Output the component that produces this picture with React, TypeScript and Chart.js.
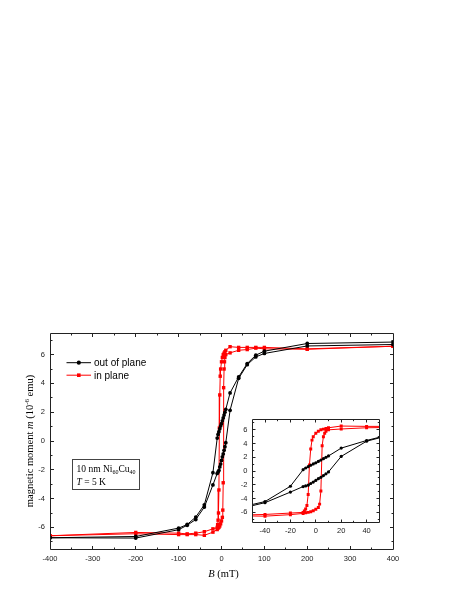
import React, { useEffect, useRef } from "react";
import { Chart, registerables } from "chart.js";

Chart.register(...registerables);

// ---- data: out of plane (black) ----
const outOfPlaneFieldDown = [400, 200, 100, 80, 60, 40, 20, 10, 8, 6, 4, 2, 0, -2, -4, -6, -8, -10, -20, -40, -60, -80, -100, -200, -400];
const outOfPlaneMomentDown = [6.87, 6.77, 6.24, 5.96, 5.38, 4.45, 3.34, 2.2, 2.0, 1.8, 1.6, 1.4, 1.2, 1.05, 0.85, 0.65, 0.45, 0.2, -2.2, -4.43, -5.28, -5.8, -6.05, -6.63, -6.72];
const outOfPlaneFieldUp = [-400, -200, -100, -80, -60, -40, -20, -10, -8, -6, -4, -2, 0, 2, 4, 6, 8, 10, 20, 40, 60, 80, 100, 200, 400];
const outOfPlaneMomentUp = [-6.72, -6.74, -6.16, -5.85, -5.45, -4.59, -3.05, -2.25, -2.15, -2.05, -1.8, -1.6, -1.35, -1.1, -0.9, -0.65, -0.4, -0.12, 2.13, 4.35, 5.3, 5.84, 6.08, 6.6, 6.7];

// ---- data: in plane (red) ----
const inPlaneFieldDown = [400, 200, 100, 80, 60, 40, 20, 10, 8, 6, 4, 2, 0, -2, -3, -4, -5, -6, -7, -8, -9, -10, -20, -40, -60, -80, -100, -200, -400];
const inPlaneMomentDown = [6.58, 6.4, 6.5, 6.5, 6.5, 6.5, 6.55, 6.3, 6.2, 6.1, 6.0, 5.8, 5.5, 5.0, 4.5, 3.2, 0.9, -3.4, -5.0, -5.5, -5.8, -6.0, -6.1, -6.3, -6.4, -6.45, -6.4, -6.35, -6.58];
const inPlaneFieldUp = [-400, -200, -100, -80, -60, -40, -20, -10, -8, -6, -4, -2, 0, 2, 3, 4, 5, 6, 7, 8, 10, 20, 40, 60, 80, 100, 200, 400];
const inPlaneMomentUp = [-6.58, -6.44, -6.5, -6.5, -6.5, -6.55, -6.33, -6.15, -6.05, -6.0, -5.9, -5.75, -5.55, -5.3, -4.8, -2.9, 3.7, 5.0, 5.5, 5.8, 6.0, 6.12, 6.3, 6.35, 6.45, 6.4, 6.37, 6.58];

// ---- axes ----
const mainFieldRange = [-400, 400];
const insetFieldRange = [-50, 50];
const momentRange = [-7.5, 7.5];
const mainFieldTicks = [-400, -300, -200, -100, 0, 100, 200, 300, 400];
const insetFieldTicks = [-40, -20, 0, 20, 40];
const momentTicks = [-6, -4, -2, 0, 2, 4, 6];
const seriesLabels = ["out of plane", "in plane"];

const W = 469;
const H = 607;
const BLACK = "#000000";
const RED = "#ff0000";
const AXIS = "#222222";
const SANS = "'Liberation Sans', Arial, sans-serif";
const SERIF = "'Liberation Serif', 'Times New Roman', serif";

function pts(xs: number[], ys: number[]) {
  return xs.map((x, i) => ({ x, y: ys[i] }));
}

function makeDatasets(rBlack: number, rRed: number) {
  return [
    {
      label: seriesLabels[0],
      data: [...pts(outOfPlaneFieldDown, outOfPlaneMomentDown), ...pts(outOfPlaneFieldUp, outOfPlaneMomentUp)],
      borderColor: BLACK,
      backgroundColor: BLACK,
      borderWidth: 1,
      pointStyle: "circle",
      pointRadius: rBlack,
      pointBorderWidth: 0,
      showLine: true,
      tension: 0,
    },
    {
      label: seriesLabels[1],
      data: [...pts(inPlaneFieldDown, inPlaneMomentDown), ...pts(inPlaneFieldUp, inPlaneMomentUp)],
      borderColor: RED,
      backgroundColor: RED,
      borderWidth: 1,
      pointStyle: "rect",
      pointRadius: rRed,
      pointBorderWidth: 0,
      showLine: true,
      tension: 0,
    },
  ];
}

function crisp(v: number) {
  return Math.floor(v) + 0.5;
}

function framePlugin(id: string, o: any) {
  return {
    id,
    beforeDatasetsDraw(chart: any) {
      const a = chart.chartArea;
      const ctx = chart.ctx;
      ctx.save();
      ctx.fillStyle = "#ffffff";
      ctx.fillRect(a.left, a.top, a.right - a.left, a.bottom - a.top);
      ctx.restore();
    },
    afterDraw(chart: any) {
      const { ctx, chartArea: a, scales } = chart;
      const xs = scales.x;
      const ys = scales.y;
      const L = crisp(a.left);
      const R = crisp(a.right);
      const T = crisp(a.top);
      const B = crisp(a.bottom);
      ctx.save();
      ctx.strokeStyle = AXIS;
      ctx.lineWidth = 1;
      ctx.beginPath();
      ctx.rect(L, T, R - L, B - T);
      ctx.stroke();
      ctx.beginPath();
      for (let v = xs.min; v <= xs.max + 1e-9; v += o.xStep) {
        const p = crisp(xs.getPixelForValue(v));
        if (p <= L + 1 || p >= R - 1) continue;
        const major = Math.abs(Math.round(v / o.xMajor) * o.xMajor - v) < 1e-6;
        const len = major ? o.majLen : o.minLen;
        ctx.moveTo(p, B);
        ctx.lineTo(p, B - len);
        ctx.moveTo(p, T);
        ctx.lineTo(p, T + len);
      }
      for (let v = Math.ceil(ys.min); v <= ys.max + 1e-9; v += o.yStep) {
        const p = crisp(ys.getPixelForValue(v));
        if (p <= T + 1 || p >= B - 1) continue;
        const major = Math.abs(Math.round(v / o.yMajor) * o.yMajor - v) < 1e-6;
        const len = major ? o.majLen : o.minLen;
        ctx.moveTo(L, p);
        ctx.lineTo(L + len, p);
        ctx.moveTo(R, p);
        ctx.lineTo(R - len, p);
      }
      ctx.stroke();
      ctx.restore();
      if (o.extra) o.extra(chart);
    },
  };
}

type Part = { t: string; f: string; dy?: number };

function drawRich(ctx: CanvasRenderingContext2D, parts: Part[], x: number, y: number, align: "left" | "center") {
  let total = 0;
  for (const p of parts) {
    ctx.font = p.f;
    total += ctx.measureText(p.t).width;
  }
  let cx = align === "center" ? x - total / 2 : x;
  ctx.textAlign = "left";
  ctx.textBaseline = "alphabetic";
  for (const p of parts) {
    ctx.font = p.f;
    ctx.fillText(p.t, cx, y + (p.dy || 0));
    cx += ctx.measureText(p.t).width;
  }
}

function mainExtra(chart: any) {
  const ctx: CanvasRenderingContext2D = chart.ctx;
  const a = chart.chartArea;
  ctx.save();
  ctx.fillStyle = "#000";

  // legend
  const legendRows = [
    { y: 362.7, color: BLACK, style: "circle", label: seriesLabels[0] },
    { y: 375.2, color: RED, style: "rect", label: seriesLabels[1] },
  ];
  for (const r of legendRows) {
    ctx.strokeStyle = r.color;
    ctx.fillStyle = r.color;
    ctx.lineWidth = 1;
    ctx.beginPath();
    ctx.moveTo(66.5, r.y);
    ctx.lineTo(91, r.y);
    ctx.stroke();
    if (r.style === "circle") {
      ctx.beginPath();
      ctx.arc(78.8, r.y, 2.1, 0, Math.PI * 2);
      ctx.fill();
    } else {
      ctx.fillRect(78.8 - 1.8, r.y - 1.8, 3.6, 3.6);
    }
    ctx.fillStyle = "#000";
    ctx.font = `10px ${SANS}`;
    ctx.textAlign = "left";
    ctx.textBaseline = "alphabetic";
    ctx.fillText(r.label, 94, r.y + 3.4);
  }

  // annotation box
  ctx.strokeStyle = "#444";
  ctx.lineWidth = 1;
  ctx.strokeRect(72.5, 459.5, 67, 30);
  ctx.fillStyle = "#000";
  drawRich(
    ctx,
    [
      { t: "10 nm Ni", f: `9.5px ${SERIF}` },
      { t: "60", f: `6px ${SERIF}`, dy: 2.5 },
      { t: "Cu", f: `9.5px ${SERIF}` },
      { t: "40", f: `6px ${SERIF}`, dy: 2.5 },
    ],
    76.5,
    471.5,
    "left"
  );
  drawRich(
    ctx,
    [
      { t: "T", f: `italic 9.5px ${SERIF}` },
      { t: " = 5 K", f: `9.5px ${SERIF}` },
    ],
    76.5,
    485,
    "left"
  );

  // x title
  drawRich(
    ctx,
    [
      { t: "B", f: `italic 10.5px ${SERIF}` },
      { t: " (mT)", f: `10.5px ${SERIF}` },
    ],
    (a.left + a.right) / 2 + 2,
    577,
    "center"
  );

  // y title
  ctx.translate(33, (a.top + a.bottom) / 2);
  ctx.rotate(-Math.PI / 2);
  drawRich(
    ctx,
    [
      { t: "magnetic moment ", f: `10.5px ${SERIF}` },
      { t: "m", f: `italic 10.5px ${SERIF}` },
      { t: " (10", f: `10.5px ${SERIF}` },
      { t: "-6", f: `7px ${SERIF}`, dy: -4 },
      { t: " emu)", f: `10.5px ${SERIF}` },
    ],
    0,
    0,
    "center"
  );
  ctx.restore();
}

const tickFont = { family: SANS, size: 7.5 };

function setTicks(values: number[]) {
  return (s: any) => {
    s.ticks = values.map((v) => ({ value: v }));
  };
}

export default function App() {
  const mainRef = useRef<HTMLCanvasElement>(null);
  const insetRef = useRef<HTMLCanvasElement>(null);

  useEffect(() => {
    const main = new Chart(mainRef.current as HTMLCanvasElement, {
      type: "scatter",
      data: { datasets: makeDatasets(1.9, 2.4) as any },
      options: {
        responsive: false,
        animation: false,
        events: [],
        layout: { padding: { left: 0, top: 333, right: 76, bottom: 0 } },
        plugins: { legend: { display: false }, tooltip: { enabled: false } },
        scales: {
          x: {
            type: "linear",
            min: mainFieldRange[0],
            max: mainFieldRange[1],
            grid: { display: false, drawTicks: false },
            border: { display: false },
            ticks: { font: tickFont, color: AXIS, padding: 5, autoSkip: false, maxRotation: 0 },
            afterBuildTicks: setTicks(mainFieldTicks),
            afterFit: (s: any) => {
              s.height = 58;
            },
          },
          y: {
            type: "linear",
            min: momentRange[0],
            max: momentRange[1],
            grid: { display: false, drawTicks: false },
            border: { display: false },
            ticks: { font: tickFont, color: AXIS, padding: 5, autoSkip: false },
            afterBuildTicks: setTicks(momentTicks),
            afterFit: (s: any) => {
              s.width = 50;
            },
          },
        },
      } as any,
      plugins: [framePlugin("mainFrame", { xStep: 50, xMajor: 100, yStep: 1, yMajor: 2, majLen: 3.5, minLen: 2, extra: mainExtra })],
    });

    const inset = new Chart(insetRef.current as HTMLCanvasElement, {
      type: "scatter",
      data: { datasets: makeDatasets(1.6, 2.1) as any },
      options: {
        responsive: false,
        animation: false,
        events: [],
        layout: { padding: { left: 0, top: 9, right: 8.7, bottom: 0 } },
        plugins: { legend: { display: false }, tooltip: { enabled: false } },
        scales: {
          x: {
            type: "linear",
            min: insetFieldRange[0],
            max: insetFieldRange[1],
            grid: { display: false, drawTicks: false },
            border: { display: false },
            ticks: { font: tickFont, color: AXIS, padding: 4, autoSkip: false, maxRotation: 0 },
            afterBuildTicks: setTicks(insetFieldTicks),
            afterFit: (s: any) => {
              s.height = 20.3;
            },
          },
          y: {
            type: "linear",
            min: momentRange[0],
            max: momentRange[1],
            grid: { display: false, drawTicks: false },
            border: { display: false },
            ticks: { font: tickFont, color: AXIS, padding: 5, autoSkip: false },
            afterBuildTicks: setTicks(momentTicks),
            afterFit: (s: any) => {
              s.width = 24.3;
            },
          },
        },
      } as any,
      plugins: [framePlugin("insetFrame", { xStep: 10, xMajor: 20, yStep: 1, yMajor: 2, majLen: 3, minLen: 1.7 })],
    });

    return () => {
      main.destroy();
      inset.destroy();
    };
  }, []);

  return (
    <div style={{ position: "absolute", left: 0, top: 0, width: W, height: H, background: "#ffffff" }}>
      <canvas ref={mainRef} width={W} height={H} style={{ position: "absolute", left: 0, top: 0, width: W, height: H }} />
      <canvas ref={insetRef} width={160} height={133} style={{ position: "absolute", left: 228, top: 410, width: 160, height: 133 }} />
    </div>
  );
}
